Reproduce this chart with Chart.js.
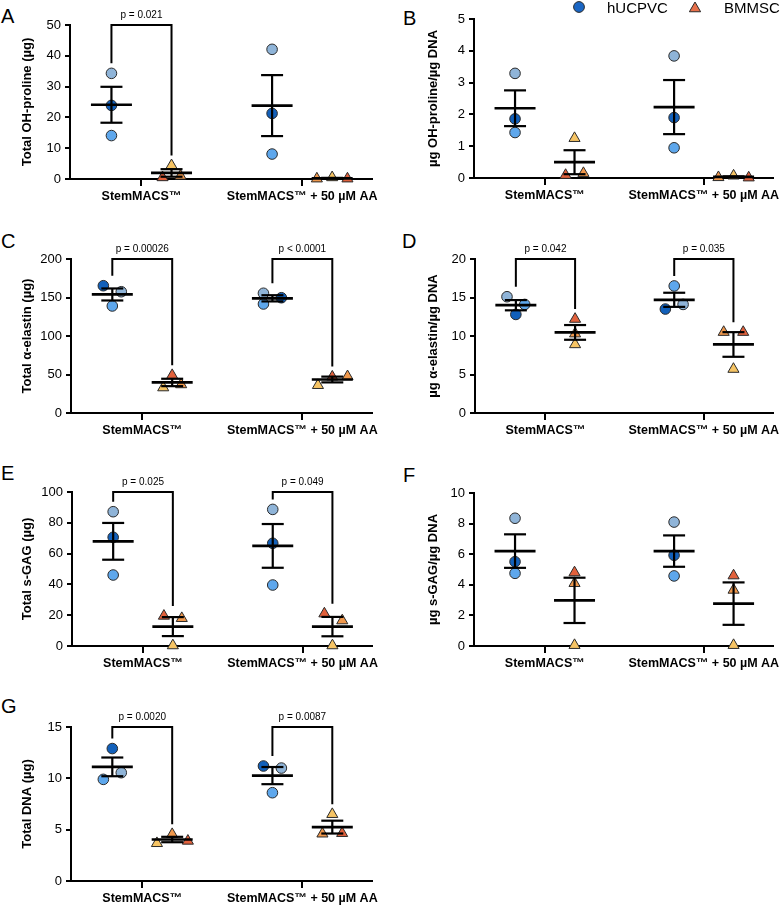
<!DOCTYPE html>
<html><head><meta charset="utf-8">
<script src="https://cdn.jsdelivr.net/npm/chart.js@4.4.1/dist/chart.umd.min.js"></script>
<style>
html,body{margin:0;padding:0;background:#fff;width:784px;height:905px;overflow:hidden;}
body{position:relative;font-family:"Liberation Sans",Arial,sans-serif;}
canvas{position:absolute;}
.lbl{position:absolute;font-size:20px;line-height:20px;color:#000;}
</style></head><body>
<div class="lbl" style="left:1px;top:6px">A</div>
<div class="lbl" style="left:403px;top:8px">B</div>
<div class="lbl" style="left:1px;top:231px">C</div>
<div class="lbl" style="left:402px;top:231px">D</div>
<div class="lbl" style="left:1px;top:463px">E</div>
<div class="lbl" style="left:403px;top:465px">F</div>
<div class="lbl" style="left:1px;top:696px">G</div>
<script>
// ---------- DATA ----------
const categories = ['StemMACS™', 'StemMACS™ + 50 µM AA'];
const seriesNames = ['hUCPVC', 'BMMSC'];
const hColors = ['#8FB4D8', '#1260BA', '#5EA7EC'];   // donors 1..3 (hUCPVC)
const bColors = ['#F6C464', '#F0984C', '#E2613C'];   // donors 1..3 (BMMSC)
const legendColors = ['#1A66C4', '#E8704A'];

// A
const aTitle = 'Total OH-proline (µg)';
const aTicks = [0, 10, 20, 30, 40, 50];
const aH = [[34.3, 23.9, 14.1], [42.1, 21.3, 8.1]];
const aB = [[4.4, 1.0, 0.5], [0.5, 0.1, 0.1]];
const aHJit = [[0, 0, 0], [0, 0, 0]];
const aBJit = [[0, 1, -1], [0, -1.7, 1.7]];
const aP = ['p = 0.021', null];
// B
const bTitle = 'µg OH-proline/µg DNA';
const bTicks = [0, 1, 2, 3, 4, 5];
const bH = [[3.29, 1.86, 1.43], [3.84, 1.90, 0.95]];
const bB = [[1.25, 0.15, 0.09], [0.07, 0.02, 0.01]];
const bHJit = [[0, 0, 0], [0, 0, 0]];
const bBJit = [[0, 1, -1], [0, -1.7, 1.7]];
const bP = [null, null];
// C
const cTitle = 'Total α-elastin (µg)';
const cTicks = [0, 50, 100, 150, 200];
const cH = [[157.5, 165.3, 139.0], [155.5, 149.7, 141.6]];
const cB = [[33, 37, 49], [36, 47.5, 47]];
const cHJit = [[1, -1, 0], [-1, 1, -1]];
const cBJit = [[-1, 1, 0], [-1.6, 1.7, 0]];
const cP = ['p = 0.00026', 'p < 0.0001'];
// D
const dTitle = 'µg α-elastin/µg DNA';
const dTicks = [0, 5, 10, 15, 20];
const dH = [[15.1, 12.8, 14.1], [14.1, 13.5, 16.5]];
const dB = [[8.9, 10.3, 12.2], [5.7, 10.5, 10.5]];
const dHJit = [[-1, 0, 1], [1, -1, 0]];
const dBJit = [[0, 0, 0], [0, -1.1, 1.1]];
const dP = ['p = 0.042', 'p = 0.035'];
// E
const eTitle = 'Total s-GAG (µg)';
const eTicks = [0, 20, 40, 60, 80, 100];
const eH = [[87.2, 70.6, 46.1], [88.7, 66.7, 39.6]];
const eB = [[0.3, 18, 19.5], [0.3, 16.5, 21]];
const eHJit = [[0, 0, 0], [0, 0, 0]];
const eBJit = [[0, 1, -1], [0, 1.1, -0.9]];
const eP = ['p = 0.025', 'p = 0.049'];
// F
const fTitle = 'µg s-GAG/µg DNA';
const fTicks = [0, 2, 4, 6, 8, 10];
const fH = [[8.35, 5.51, 4.75], [8.1, 5.93, 4.58]];
const fB = [[0.05, 4.1, 4.8], [0.05, 3.66, 4.6]];
const fHJit = [[0, 0, 0], [0, 0, 0]];
const fBJit = [[0, 0, 0], [0, 0, 0]];
const fP = [null, null];
// G
const gTitle = 'Total DNA (µg)';
const gTicks = [0, 5, 10, 15];
const gH = [[10.55, 12.9, 9.9], [11.0, 11.2, 8.6]];
const gB = [[3.67, 4.55, 3.9], [6.5, 4.6, 4.65]];
const gHJit = [[1, 0, -1], [1, -1, 0]];
const gBJit = [[-1.7, 0, 1.75], [0, -1.1, 1.1]];
const gP = ['p = 0.0020', 'p = 0.0087'];

// ---------- LAYOUT ----------
const FONT = '"Liberation Sans", Arial, Helvetica, sans-serif';
const XMIN = -0.445, XMAX = 1.435;
const GROUP_OFF = [-0.187, 0.187];
const JIT_UNIT = 0.056;
const CW = 392, CH = 225;

const panels = [
  {id:'A', title:aTitle, ticks:aTicks, h:aH, b:aB, hj:aHJit, bj:aBJit, p:aP, box:[0,0],   area:[70,25,372,179], tpad:20},
  {id:'B', title:bTitle, ticks:bTicks, h:bH, b:bB, hj:bHJit, bj:bBJit, p:bP, box:[392,0], area:[82,19,384,178], tpad:34, legend:true},
  {id:'C', title:cTitle, ticks:cTicks, h:cH, b:cB, hj:cHJit, bj:cBJit, p:cP, box:[0,234], area:[71,25,372,179], tpad:20},
  {id:'D', title:dTitle, ticks:dTicks, h:dH, b:dB, hj:dHJit, bj:dBJit, p:dP, box:[392,234], area:[83,25,384,179], tpad:34},
  {id:'E', title:eTitle, ticks:eTicks, h:eH, b:eB, hj:eHJit, bj:eBJit, p:eP, box:[0,467], area:[72,25,372,179], tpad:20},
  {id:'F', title:fTitle, ticks:fTicks, h:fH, b:fB, hj:fHJit, bj:fBJit, p:fP, box:[392,467], area:[82,26,384,179], tpad:34},
  {id:'G', title:gTitle, ticks:gTicks, h:gH, b:gB, hj:gHJit, bj:gBJit, p:gP, box:[0,702], area:[71,25,372,179], tpad:20}
];

function stats(vals) {
  const n = vals.length;
  const m = vals.reduce((a, v) => a + v, 0) / n;
  const sd = Math.sqrt(vals.reduce((a, v) => a + (v - m) * (v - m), 0) / (n - 1));
  return {mean: m, sem: sd / Math.sqrt(n)};
}

function summaryPlugin(p) {
  return {
    id: 'summary' + p.id,
    afterDatasetsDraw(chart) {
      const ctx = chart.ctx, x = chart.scales.x, y = chart.scales.y;
      const seg = (x1, y1, x2, y2) => { ctx.beginPath(); ctx.moveTo(x1, y1); ctx.lineTo(x2, y2); ctx.stroke(); };
      ctx.save();
      ctx.strokeStyle = '#000';
      ctx.lineCap = 'butt';
      [p.h, p.b].forEach((grp, d) => grp.forEach((vals, c) => {
        const s = stats(vals);
        const cx = x.getPixelForValue(c + GROUP_OFF[d]);
        const ym = y.getPixelForValue(s.mean);
        const yu = y.getPixelForValue(s.mean + s.sem);
        const yl = y.getPixelForValue(s.mean - s.sem);
        ctx.lineWidth = 2.2;
        seg(cx, yu, cx, yl);
        seg(cx - 11, yu, cx + 11, yu);
        seg(cx - 11, yl, cx + 11, yl);
        ctx.lineWidth = 2.7;
        seg(cx - 20.5, ym, cx + 20.5, ym);
      }));
      // significance brackets
      const top = y.getPixelForValue(p.ticks[p.ticks.length - 1]);
      p.p.forEach((txt, c) => {
        if (!txt) return;
        const xl = x.getPixelForValue(c + GROUP_OFF[0]);
        const xr = x.getPixelForValue(c + GROUP_OFF[1]);
        const yl = y.getPixelForValue(Math.max(...p.h[c])) - 10;
        const yr = y.getPixelForValue(Math.max(...p.b[c])) - 10;
        ctx.lineWidth = 2;
        ctx.lineJoin = 'miter';
        ctx.beginPath();
        ctx.moveTo(xl, yl); ctx.lineTo(xl, top); ctx.lineTo(xr, top); ctx.lineTo(xr, yr);
        ctx.stroke();
        ctx.fillStyle = '#000';
        ctx.font = '10px ' + FONT;
        ctx.textAlign = 'center';
        ctx.textBaseline = 'alphabetic';
        ctx.fillText(txt, (xl + xr) / 2, top - 7);
      });
      ctx.restore();
    },
    afterDraw(chart) {
      if (!p.legend) return;
      const ctx = chart.ctx;
      ctx.save();
      ctx.strokeStyle = '#2a2a2a';
      ctx.lineWidth = 1;
      // circle marker
      ctx.fillStyle = legendColors[0];
      ctx.beginPath(); ctx.arc(187, 7, 5.4, 0, Math.PI * 2); ctx.fill(); ctx.stroke();
      // triangle marker
      const tx = 303, ty = 8.5, r = 6.5;
      ctx.fillStyle = legendColors[1];
      ctx.beginPath();
      ctx.moveTo(tx, ty - r);
      ctx.lineTo(tx + r * Math.sin(Math.PI * 2 / 3), ty - r * Math.cos(Math.PI * 2 / 3));
      ctx.lineTo(tx - r * Math.sin(Math.PI * 2 / 3), ty - r * Math.cos(Math.PI * 2 / 3));
      ctx.closePath(); ctx.fill(); ctx.stroke();
      ctx.fillStyle = '#000';
      ctx.font = '15px ' + FONT;
      ctx.textAlign = 'left';
      ctx.textBaseline = 'middle';
      ctx.fillText(seriesNames[0], 215, 8.5);
      ctx.fillText(seriesNames[1], 332, 8.5);
      ctx.restore();
    }
  };
}

function makeChart(p) {
  const cv = document.createElement('canvas');
  cv.width = CW; cv.height = CH;
  cv.style.width = CW + 'px'; cv.style.height = CH + 'px';
  cv.style.left = p.box[0] + 'px'; cv.style.top = p.box[1] + 'px';
  document.body.appendChild(cv);
  const [L, T, R, B] = p.area;
  const datasets = [p.h, p.b].map((grp, d) => {
    const pts = [], cols = [];
    const jit = d ? p.bj : p.hj;
    grp.forEach((vals, c) => vals.forEach((v, i) => {
      pts.push({x: c + GROUP_OFF[d] + jit[c][i] * JIT_UNIT, y: v});
      cols.push((d ? bColors : hColors)[i]);
    }));
    return {
      label: seriesNames[d], data: pts,
      pointStyle: d ? 'triangle' : 'circle',
      pointRadius: d ? 6.4 : 5.3,
      pointBackgroundColor: cols,
      pointBorderColor: '#2a2a2a',
      pointBorderWidth: 1,
      showLine: false, clip: false
    };
  });
  new Chart(cv, {
    type: 'scatter',
    data: {datasets},
    options: {
      responsive: false, animation: false,
      layout: {padding: {left: 0, top: T, right: CW - R, bottom: 0}},
      plugins: {legend: {display: false}, tooltip: {enabled: false}},
      scales: {
        x: {
          type: 'linear', min: XMIN, max: XMAX,
          afterBuildTicks: s => { s.ticks = categories.map((c, i) => ({value: i})); },
          afterFit: s => { s.height = CH - B; },
          ticks: {callback: (v) => categories[v], font: {family: FONT, size: 12.5, weight: 'bold'}, color: '#000', padding: 3, maxRotation: 0, autoSkip: false},
          grid: {drawOnChartArea: false, drawTicks: true, tickLength: 7, lineWidth: 2, color: '#000'},
          border: {display: true, color: '#000', width: 2}
        },
        y: {
          min: 0, max: p.ticks[p.ticks.length - 1],
          afterBuildTicks: s => { s.ticks = p.ticks.map(v => ({value: v})); },
          afterFit: s => { s.width = L; },
          ticks: {font: {family: FONT, size: 13}, color: '#000', padding: 4},
          grid: {drawOnChartArea: false, drawTicks: true, tickLength: 5, lineWidth: 2, color: '#000'},
          border: {display: true, color: '#000', width: 2},
          title: {display: true, text: p.title, font: {family: FONT, size: 13, weight: 'bold'}, color: '#000', padding: {top: p.tpad, bottom: 0}}
        }
      }
    },
    plugins: [summaryPlugin(p)]
  });
}

panels.forEach(makeChart);
</script>
</body></html>
